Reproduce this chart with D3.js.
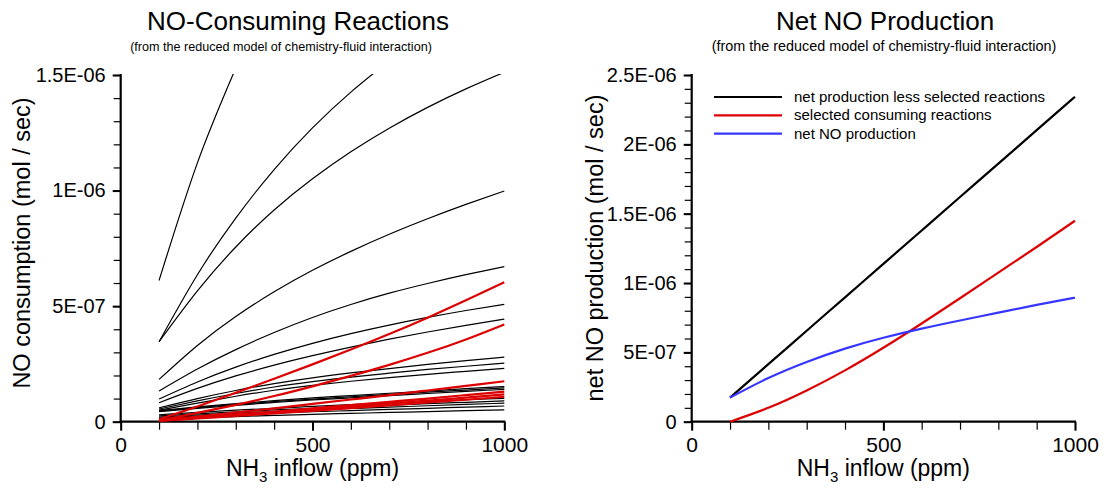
<!DOCTYPE html>
<html>
<head>
<meta charset="utf-8">
<script src="https://cdn.jsdelivr.net/npm/d3@7"></script>
<style>
  html, body { margin: 0; padding: 0; background: #fff; }
  svg { display: block; font-family: "Liberation Sans", Arial, Helvetica, sans-serif; }
</style>
</head>
<body>
<svg id="chart" width="1103" height="488"></svg>
<script>
// ---------- DATA ----------
// NH3 inflow grid (ppm)
const inflow = [100, 200, 300, 400, 500, 600, 700, 800, 900, 1000];

// Left panel: NO-consuming reactions (values in 1E-06 mol/sec), on the inflow grid
const consumingBlack = [
  [0.611, 1.12, 1.53],
  [0.346, 0.636, 0.881, 1.091, 1.271, 1.426, 1.561],
  [0.346, 0.566, 0.756, 0.916, 1.051, 1.168, 1.270, 1.360, 1.440, 1.512],
  [0.183, 0.330, 0.455, 0.562, 0.655, 0.737, 0.811, 0.878, 0.940, 0.998],
  [0.133, 0.228, 0.312, 0.386, 0.451, 0.507, 0.556, 0.598, 0.636, 0.671],
  [0.098, 0.172, 0.236, 0.291, 0.339, 0.381, 0.418, 0.451, 0.481, 0.508],
  [0.082, 0.144, 0.198, 0.245, 0.286, 0.323, 0.357, 0.388, 0.417, 0.444],
  [0.060, 0.100, 0.135, 0.165, 0.190, 0.211, 0.230, 0.248, 0.264, 0.279],
  [0.055, 0.090, 0.122, 0.150, 0.173, 0.193, 0.210, 0.226, 0.240, 0.253],
  [0.050, 0.080, 0.110, 0.136, 0.157, 0.175, 0.191, 0.205, 0.218, 0.231],
  [0.048, 0.064, 0.078, 0.091, 0.103, 0.113, 0.123, 0.133, 0.143, 0.152],
  [0.046, 0.061, 0.075, 0.087, 0.098, 0.108, 0.118, 0.128, 0.137, 0.146],
  [0.044, 0.058, 0.071, 0.083, 0.094, 0.103, 0.113, 0.122, 0.131, 0.140],
  [0.030, 0.040, 0.050, 0.058, 0.066, 0.074, 0.081, 0.088, 0.095, 0.101],
  [0.025, 0.034, 0.043, 0.051, 0.058, 0.065, 0.071, 0.078, 0.084, 0.090],
  [0.020, 0.029, 0.037, 0.044, 0.051, 0.057, 0.063, 0.069, 0.075, 0.080],
  [0.016, 0.024, 0.031, 0.037, 0.043, 0.048, 0.053, 0.058, 0.063, 0.068],
  [0.010, 0.016, 0.022, 0.027, 0.032, 0.036, 0.040, 0.044, 0.048, 0.051]
];
const consumingRed = [
  [0.010, 0.066, 0.125, 0.186, 0.248, 0.312, 0.379, 0.450, 0.525, 0.603],
  [0.005, 0.038, 0.073, 0.111, 0.153, 0.198, 0.246, 0.298, 0.356, 0.421],
  [0.005, 0.022, 0.040, 0.058, 0.077, 0.096, 0.115, 0.135, 0.155, 0.175],
  [0.005, 0.018, 0.031, 0.044, 0.058, 0.072, 0.086, 0.100, 0.115, 0.130],
  [0.004, 0.016, 0.028, 0.040, 0.052, 0.065, 0.078, 0.091, 0.104, 0.118],
  [0.003, 0.014, 0.025, 0.036, 0.047, 0.059, 0.071, 0.083, 0.095, 0.108]
];

// Right panel: net NO production (1E-06 mol/sec)
const netLessSelected   = [0.174, 0.415, 0.656, 0.897, 1.138, 1.379, 1.620, 1.861, 2.102, 2.343];
const selectedConsuming = [0.000, 0.100, 0.225, 0.370, 0.533, 0.708, 0.890, 1.075, 1.260, 1.449];
const netProduction     = [0.174, 0.315, 0.431, 0.527, 0.605, 0.671, 0.730, 0.786, 0.842, 0.894];
const legendLabels = ["net production less selected reactions", "selected consuming reactions", "net NO production"];

// Axis ticks
const xMajorTicks = [0, 500, 1000];
const xTickLabels = ["0", "500", "1000"];
const leftYMajor  = [0, 5e-7, 1e-6, 1.5e-6];
const leftYLabels = ["0", "5E-07", "1E-06", "1.5E-06"];
const rightYMajor  = [0, 5e-7, 1e-6, 1.5e-6, 2e-6, 2.5e-6];
const rightYLabels = ["0", "5E-07", "1E-06", "1.5E-06", "2E-06", "2.5E-06"];
const unit = 1e-6;

// ---------- DRAW ----------
const svg = d3.select("#chart");
const RED = "#dc0000", BLUE = "#3636ff", BLACK = "#000";

function panel(opts) {
  const x = d3.scaleLinear().domain([0, 1000]).range([opts.x0, opts.x1]);
  const y = d3.scaleLinear().domain([0, opts.ymax]).range([421.7, 75]);
  const g = svg.append("g");

  const cid = "clip" + opts.id;
  svg.append("defs").append("clipPath").attr("id", cid)
    .append("rect").attr("x", opts.x0).attr("y", 74).attr("width", opts.x1 - opts.x0 + 2).attr("height", 421.7 - 74);

  // minor ticks
  const yMinor = d3.range(0, opts.ymax + 1e-9, 1e-7);
  const xMinor = d3.range(0, 1001, 100);
  g.append("g").attr("transform", `translate(${opts.x0},0)`)
    .call(d3.axisLeft(y).tickValues(yMinor).tickSize(7).tickFormat("").tickSizeOuter(0))
    .call(a => a.select(".domain").remove())
    .call(a => a.selectAll("line").attr("stroke-width", 1.2));
  g.append("g").attr("transform", `translate(0,421.7)`)
    .call(d3.axisBottom(x).tickValues(xMinor).tickSize(8).tickFormat("").tickSizeOuter(0))
    .call(a => a.select(".domain").remove())
    .call(a => a.selectAll("line").attr("stroke-width", 1.2));

  // major ticks + labels
  g.append("g").attr("transform", `translate(${opts.x0},0)`)
    .call(d3.axisLeft(y).tickValues(opts.yMajor).tickSize(8).tickPadding(7)
      .tickFormat((d, i) => opts.yLabels[i]).tickSizeOuter(0))
    .call(a => a.select(".domain").attr("stroke-width", 2.2).attr("d", `M0,${y(0)}V${y(opts.ymax) - 1}`))
    .call(a => a.selectAll("line").attr("stroke-width", 2))
    .call(a => a.selectAll("text").attr("font-size", 20).attr("fill", "#000")
      .attr("font-family", "Liberation Sans, Arial, sans-serif"));
  g.append("g").attr("transform", `translate(0,421.7)`)
    .call(d3.axisBottom(x).tickValues(xMajorTicks).tickSize(9).tickPadding(6)
      .tickFormat((d, i) => xTickLabels[i]).tickSizeOuter(0))
    .call(a => a.select(".domain").attr("stroke-width", 2.2).attr("d", `M${x(0) - 1},0H${x(1000) + 1}`))
    .call(a => a.selectAll("line").attr("stroke-width", 2))
    .call(a => a.selectAll("text").attr("font-size", 21).attr("fill", "#000")
      .attr("font-family", "Liberation Sans, Arial, sans-serif"));

  // titles
  svg.append("text").attr("x", opts.titleX).attr("y", 30).attr("text-anchor", "middle")
    .attr("font-size", 26).text(opts.title);
  svg.append("text").attr("x", opts.subX).attr("y", 51).attr("text-anchor", "middle")
    .attr("font-size", opts.subSize).text("(from the reduced model of chemistry-fluid interaction)");

  // y-axis title
  svg.append("text").attr("transform", `translate(${opts.ylabX},${opts.ylabY}) rotate(-90)`)
    .attr("text-anchor", "middle").attr("font-size", 23.5).text(opts.ylab);

  // x-axis title with subscript
  const xt = svg.append("text").attr("x", (opts.x0 + opts.x1) / 2).attr("y", 476)
    .attr("text-anchor", "middle").attr("font-size", 23);
  xt.append("tspan").text("NH");
  xt.append("tspan").attr("font-size", 15).attr("dy", 6).text("3");
  xt.append("tspan").attr("dy", -6).text(" inflow (ppm)");

  return { x, y, clip: `url(#${cid})` };
}

// Left panel
const L = panel({
  id: "L", x0: 120.7, x1: 504.3, ymax: 1.5e-6, yMajor: leftYMajor, yLabels: leftYLabels,
  title: "NO-Consuming Reactions", titleX: 298, subX: 281, subSize: 12.6,
  ylab: "NO consumption (mol / sec)", ylabX: 30, ylabY: 243
});
const lineL = d3.line().x((d, i) => L.x(inflow[i])).y(d => L.y(d * unit)).curve(d3.curveNatural);
const gL = svg.append("g").attr("clip-path", L.clip);
gL.selectAll("path.blk").data(consumingBlack).join("path").attr("class", "blk")
  .attr("d", lineL).attr("fill", "none").attr("stroke", BLACK).attr("stroke-width", 1.2);
gL.selectAll("path.red").data(consumingRed).join("path").attr("class", "red")
  .attr("d", lineL).attr("fill", "none").attr("stroke", RED).attr("stroke-width", 2.2);

// Right panel
const R = panel({
  id: "R", x0: 691.7, x1: 1075, ymax: 2.5e-6, yMajor: rightYMajor, yLabels: rightYLabels,
  title: "Net NO Production", titleX: 885, subX: 884, subSize: 14.4,
  ylab: "net NO production (mol / sec)", ylabX: 603, ylabY: 248
});
const lineR = d3.line().x((d, i) => R.x(inflow[i])).y(d => R.y(d * unit)).curve(d3.curveNatural);
const rightSeries = [
  { v: netLessSelected, c: BLACK },
  { v: selectedConsuming, c: RED },
  { v: netProduction, c: BLUE }
];
svg.append("g").selectAll("path").data(rightSeries).join("path")
  .attr("d", d => lineR(d.v)).attr("fill", "none").attr("stroke", d => d.c).attr("stroke-width", 2.2);

// Legend
const lg = svg.append("g").attr("transform", "translate(714,97)");
rightSeries.forEach((s, i) => {
  lg.append("line").attr("x1", 0).attr("x2", 68).attr("y1", i * 18.3).attr("y2", i * 18.3)
    .attr("stroke", s.c).attr("stroke-width", 2.2);
  lg.append("text").attr("x", 80).attr("y", i * 18.3 + 5).attr("font-size", 15).text(legendLabels[i]);
});
</script>
</body>
</html>
